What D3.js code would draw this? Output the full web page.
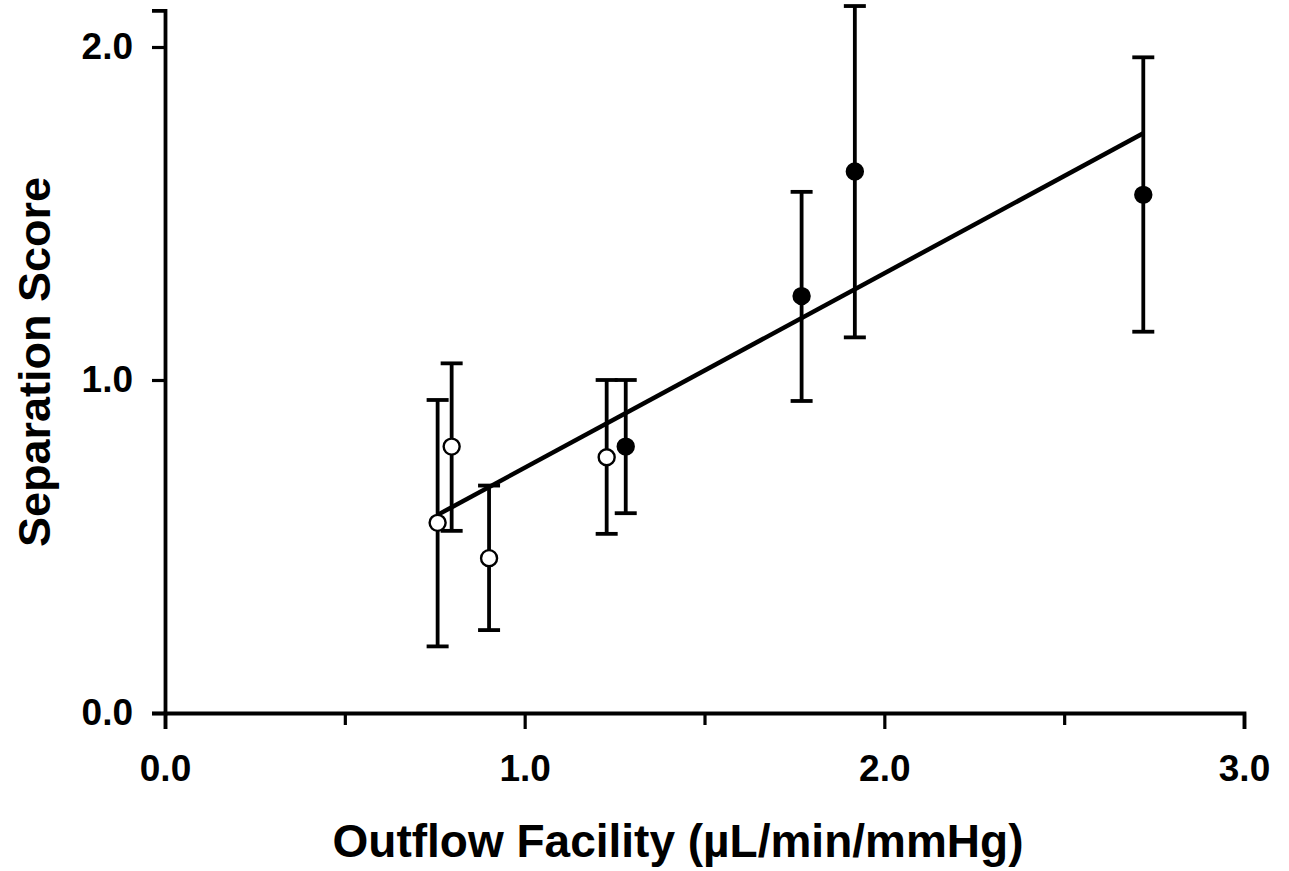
<!DOCTYPE html>
<html><head><meta charset="utf-8">
<script src="https://cdn.jsdelivr.net/npm/d3@7"></script>
<style>body{margin:0;background:#fff}svg{display:block}text{font-family:"Liberation Sans",Arial,sans-serif;font-weight:bold;fill:#000}</style>
</head><body>
<script>
// Data
const outflowX   = [0.758, 0.797, 0.901, 1.228, 1.281, 1.770, 1.918, 2.720];
const scoreY     = [0.571, 0.800, 0.465, 0.768, 0.800, 1.252, 1.626, 1.556];
const errUpper   = [0.940, 1.050, 0.683, 1.000, 1.000, 1.565, 2.123, 1.969];
const errLower   = [0.200, 0.547, 0.249, 0.538, 0.600, 0.937, 1.128, 1.145];
const groupFilled = [false, false, false, false, true, true, true, true];
const fitX = [0.758, 2.720];
const fitY = [0.595, 1.741];
const xTicks = [0, 0.5, 1.0, 1.5, 2.0, 2.5, 3.0];
const xTickLabels = ["0.0", "", "1.0", "", "2.0", "", "3.0"];
const yTicks = [0, 1.0, 2.0];
const yTickLabels = ["0.0", "1.0", "2.0"];
const xTitle = "Outflow Facility (µL/min/mmHg)";
const yTitle = "Separation Score";

const W = 1289, H = 871;
const svg = d3.select("body").append("svg").attr("width", W).attr("height", H);

const x = d3.scaleLinear().domain([0, 3]).range([165, 1244]);
const y = d3.scaleLinear().domain([0, 2.11]).range([713, 713 - 2.11 * 333]);

// X axis
const xAxis = d3.axisBottom(x).tickValues(xTicks)
  .tickFormat((d, i) => xTickLabels[i]).tickSizeOuter(0).tickSize(16).tickPadding(26);
const gx = svg.append("g").attr("transform", `translate(0,${y(0)})`).call(xAxis);
gx.select(".domain").attr("stroke", "#000").attr("stroke-width", 3.8);
gx.selectAll(".tick line").attr("stroke", "#000").attr("stroke-width", 3.2)
  .attr("y2", (d, i) => xTickLabels[i] ? 16 : 12);
gx.selectAll(".tick text").attr("font-size", 37).attr("font-family", "Liberation Sans, Arial, sans-serif").attr("font-weight", "bold");

// Y axis
const yAxis = d3.axisLeft(y).tickValues(yTicks)
  .tickFormat((d, i) => yTickLabels[i]).tickSizeOuter(0).tickSize(13).tickPadding(19);
const gy = svg.append("g").attr("transform", `translate(${x(0)},0)`).call(yAxis);
gy.select(".domain").attr("stroke", "#000").attr("stroke-width", 3.8);
gy.selectAll(".tick line").attr("stroke", "#000").attr("stroke-width", 3.2);
gy.selectAll(".tick text").attr("font-size", 37).attr("font-family", "Liberation Sans, Arial, sans-serif").attr("font-weight", "bold");

// Titles
svg.append("text").attr("x", 678).attr("y", 857).attr("text-anchor", "middle")
  .attr("font-size", 46).text(xTitle);
svg.append("text").attr("transform", "translate(50,362) rotate(-90)").attr("text-anchor", "middle")
  .attr("font-size", 45).text(yTitle);

const pts = outflowX.map((d, i) => ({x: d, y: scoreY[i], hi: errUpper[i], lo: errLower[i], f: groupFilled[i]}));
const capW = 11;

// Error bars
const eb = svg.append("g").attr("stroke", "#000").attr("stroke-width", 3.8);
eb.selectAll("line.v").data(pts).join("line").attr("class", "v")
  .attr("x1", d => x(d.x)).attr("x2", d => x(d.x)).attr("y1", d => y(d.hi)).attr("y2", d => y(d.lo));
eb.selectAll("line.t").data(pts).join("line").attr("class", "t")
  .attr("x1", d => x(d.x) - capW).attr("x2", d => x(d.x) + capW).attr("y1", d => y(d.hi)).attr("y2", d => y(d.hi));
eb.selectAll("line.b").data(pts).join("line").attr("class", "b")
  .attr("x1", d => x(d.x) - capW).attr("x2", d => x(d.x) + capW).attr("y1", d => y(d.lo)).attr("y2", d => y(d.lo));

// Regression line
svg.append("path").datum(fitX.map((d, i) => [d, fitY[i]]))
  .attr("d", d3.line().x(d => x(d[0])).y(d => y(d[1])))
  .attr("stroke", "#000").attr("stroke-width", 4.5).attr("fill", "none");

// Points
svg.append("g").selectAll("circle").data(pts).join("circle")
  .attr("cx", d => x(d.x)).attr("cy", d => y(d.y)).attr("r", 8)
  .attr("fill", d => d.f ? "#000" : "#fff").attr("stroke", "#000").attr("stroke-width", 2.4);
</script>
</body></html>
